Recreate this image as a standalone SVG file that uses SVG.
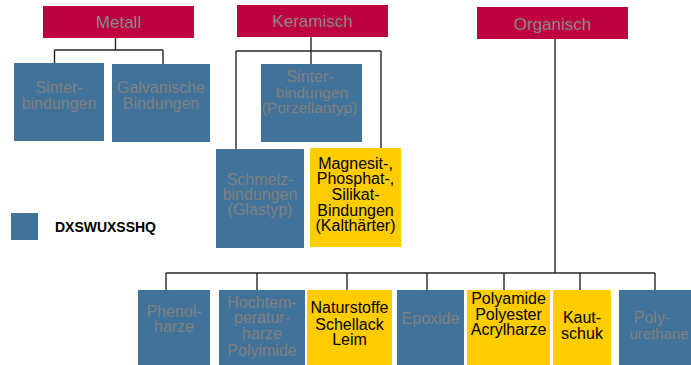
<svg xmlns="http://www.w3.org/2000/svg" width="691" height="365" viewBox="0 0 691 365">
<style>
text{font-family:"Liberation Sans",Arial,sans-serif;text-anchor:middle;font-size:16px}
.r{fill:#be003f}
.b{fill:#41739a}
.y{fill:#ffcc00}
.g{fill:#808080}
.k{fill:#000}
.t{font-size:17px;fill:#8a8a8a}
.c line{stroke:#262626;stroke-width:1.4;fill:none}
</style>
<rect width="691" height="365" fill="#fff"/>
<g class="c" id="connectors">
<line x1="115.5" y1="38" x2="115.5" y2="50"/>
<line x1="54.5" y1="50" x2="163" y2="50"/>
<line x1="54.5" y1="50" x2="54.5" y2="63"/>
<line x1="163" y1="50" x2="163" y2="64"/>
<line x1="311" y1="37" x2="311" y2="51"/>
<line x1="236" y1="51" x2="381" y2="51"/>
<line x1="236" y1="51" x2="236" y2="149"/>
<line x1="311" y1="51" x2="311" y2="64"/>
<line x1="381" y1="51" x2="381" y2="148"/>
<line x1="555" y1="39" x2="555" y2="273"/>
<line x1="166" y1="273" x2="655" y2="273"/>
<line x1="166" y1="273" x2="166" y2="290"/>
<line x1="257" y1="273" x2="257" y2="290"/>
<line x1="347" y1="273" x2="347" y2="290"/>
<line x1="427" y1="273" x2="427" y2="290"/>
<line x1="504" y1="273" x2="504" y2="290"/>
<line x1="580" y1="273" x2="580" y2="290"/>
<line x1="655" y1="273" x2="655" y2="290"/>
</g>
<g id="metall"><rect class="r" x="43" y="6" width="151" height="32"/><text class="t" x="118.5" y="28">Metall</text></g>
<g id="keramisch"><rect class="r" x="237" y="5" width="151" height="32"/><text class="t" x="312.5" y="27">Keramisch</text></g>
<g id="organisch"><rect class="r" x="477" y="7" width="151" height="32"/><text class="t" x="552.5" y="30">Organisch</text></g>
<g id="sinter-metall"><rect class="b" x="14" y="63" width="90" height="78"/><text class="g" x="59" y="93">Sinter-</text><text class="g" x="59" y="109">bindungen</text></g>
<g id="galvanische"><rect class="b" x="112" y="64" width="98" height="78"/><text class="g" x="161" y="93">Galvanische</text><text class="g" x="161" y="109">Bindungen</text></g>
<g id="sinter-porzellan"><rect class="b" x="261" y="64" width="101" height="78"/><text class="g" x="310" y="82">Sinter-</text><text class="g" x="312" y="98" style="font-size:15.5px">bindungen</text><text class="g" x="309.5" y="113" style="font-size:15.5px">(Porzellantyp)</text></g>
<g id="schmelz"><rect class="b" x="216" y="149" width="88" height="99"/><text class="g" x="260" y="185">Schmelz-</text><text class="g" x="260" y="200">bindungen</text><text class="g" x="260" y="215">(Glastyp)</text></g>
<g id="magnesit"><rect class="y" x="310" y="148" width="91" height="99"/><text class="k" x="355.5" y="169">Magnesit-,</text><text class="k" x="355.5" y="184">Phosphat-,</text><text class="k" x="355.5" y="200">Silikat-</text><text class="k" x="355.5" y="216">Bindungen</text><text class="k" x="355.5" y="231">(Kalthärter)</text></g>
<g id="legend"><rect class="b" x="11" y="213" width="27" height="27"/><text class="k" x="55" y="232" style="text-anchor:start;font-weight:bold;font-size:15px" textLength="101" lengthAdjust="spacingAndGlyphs">DXSWUXSSHQ</text></g>
<g id="phenol"><rect class="b" x="138" y="290" width="72" height="75"/><text class="g" x="174" y="317">Phenol-</text><text class="g" x="174" y="332">harze</text></g>
<g id="hochtem"><rect class="b" x="219" y="290" width="86" height="75"/><text class="g" x="262" y="308">Hochtem-</text><text class="g" x="262" y="323">peratur-</text><text class="g" x="262" y="339">harze</text><text class="g" x="262" y="356">Polyimide</text></g>
<g id="naturstoffe"><rect class="y" x="307" y="290" width="85" height="75"/><text class="k" x="349.5" y="313">Naturstoffe</text><text class="k" x="349.5" y="330">Schellack</text><text class="k" x="349.5" y="345">Leim</text></g>
<g id="epoxide"><rect class="b" x="397" y="290" width="67" height="75"/><text class="g" x="430.5" y="324">Epoxide</text></g>
<g id="polyamide"><rect class="y" x="467" y="290" width="83" height="75"/><text class="k" x="508.5" y="304">Polyamide</text><text class="k" x="508.5" y="320">Polyester</text><text class="k" x="508.5" y="335">Acrylharze</text></g>
<g id="kautschuk"><rect class="y" x="553" y="290" width="58" height="75"/><text class="k" x="582" y="323">Kaut-</text><text class="k" x="582" y="339">schuk</text></g>
<g id="polyurethane"><rect class="b" x="619" y="290" width="72" height="75"/><text class="g" x="652" y="323">Poly-</text><text class="g" x="659" y="339" style="font-size:15px">urethane</text></g>
</svg>
